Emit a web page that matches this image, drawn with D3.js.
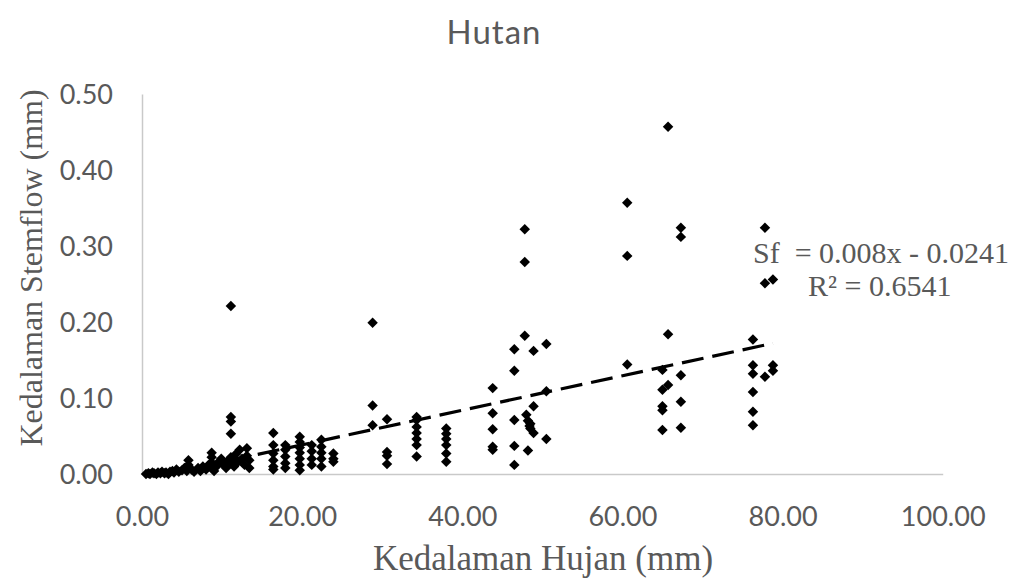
<!DOCTYPE html>
<html>
<head>
<meta charset="utf-8">
<script src="https://cdn.jsdelivr.net/npm/d3@7"></script>
<style>
  html, body { margin: 0; padding: 0; background: #fff; }
  svg { display: block; }
</style>
</head>
<body>
<svg id="chart" width="1010" height="583"></svg>
<script>
// ---- Data ----
const rainfall = [
  0.5, 0.8, 1.0, 1.3, 1.5, 1.8, 2.0, 2.3, 2.5, 2.8, 3.0, 3.3, 3.5, 3.8, 4.0, 4.3, 4.6, 5.0, 5.3, 5.6,
  5.8, 5.8, 6.2, 6.5, 7.0, 7.3, 7.6, 8.0, 8.3, 8.7, 8.7, 8.7, 8.7, 9.0, 9.3, 9.6, 9.9, 10.2, 10.5, 10.8,
  11.1, 11.1, 11.1, 11.1, 11.1, 11.1, 11.5, 11.7, 12.0, 12.2, 12.5, 12.8, 13.1, 13.1, 13.4, 13.4,
  16.4, 16.4, 16.4, 16.4, 16.4, 16.4,
  17.9, 17.9, 17.9, 17.9, 17.9,
  19.7, 19.7, 19.7, 19.7, 19.7, 19.7, 19.7,
  21.2, 21.2, 21.2, 21.2,
  22.4, 22.4, 22.4, 22.4, 22.4,
  23.9, 23.9, 23.9,
  28.8, 28.8, 28.8,
  30.6, 30.6, 30.6, 30.6,
  34.3, 34.3, 34.3, 34.3, 34.3, 34.3, 34.3,
  38.0, 38.0, 38.0, 38.0, 38.0, 38.0,
  43.8, 43.8, 43.8, 43.8, 43.8,
  46.5, 46.5, 46.5, 46.5, 46.5,
  47.8, 47.8, 47.8,
  48.0, 48.2, 48.4, 48.5, 48.5, 48.9, 48.9, 48.9, 48.2,
  50.5, 50.5, 50.5,
  60.6, 60.6, 60.6,
  65.0, 65.0, 65.0, 65.0, 65.0,
  65.7, 65.7, 65.7,
  67.3, 67.3, 67.3, 67.3, 67.3,
  76.3, 76.3, 76.3, 76.3, 76.3, 76.3,
  77.8, 77.8, 77.8,
  78.8, 78.8, 78.8
];
const stemflow = [
  0.000, 0.001, 0.000, 0.002, 0.001, 0.000, 0.002, 0.001, 0.003, 0.001, 0.002, 0.000, 0.003, 0.004, 0.002, 0.006, 0.003, 0.005, 0.008, 0.004,
  0.012, 0.018, 0.006, 0.003, 0.008, 0.004, 0.010, 0.006, 0.012, 0.008, 0.015, 0.022, 0.028, 0.004, 0.010, 0.016, 0.020, 0.012, 0.008, 0.018,
  0.221, 0.075, 0.069, 0.053, 0.022, 0.014, 0.010, 0.026, 0.016, 0.032, 0.020, 0.012, 0.034, 0.024, 0.018, 0.008,
  0.054, 0.038, 0.027, 0.018, 0.010, 0.006,
  0.038, 0.032, 0.023, 0.014, 0.008,
  0.049, 0.042, 0.035, 0.028, 0.020, 0.012, 0.005,
  0.038, 0.030, 0.020, 0.012,
  0.045, 0.036, 0.028, 0.020, 0.010,
  0.027, 0.020, 0.016,
  0.199, 0.090, 0.064,
  0.072, 0.029, 0.024, 0.013,
  0.075, 0.071, 0.062, 0.054, 0.046, 0.038, 0.023,
  0.060, 0.053, 0.046, 0.038, 0.027, 0.016,
  0.113, 0.080, 0.059, 0.036, 0.032,
  0.164, 0.136, 0.071, 0.037, 0.012,
  0.322, 0.279, 0.182,
  0.078, 0.070, 0.063, 0.066, 0.060, 0.054, 0.089, 0.162, 0.031,
  0.171, 0.109, 0.046,
  0.357, 0.287, 0.144,
  0.137, 0.111, 0.089, 0.084, 0.058,
  0.457, 0.184, 0.117,
  0.324, 0.312, 0.130, 0.095, 0.061,
  0.177, 0.143, 0.132, 0.108, 0.082, 0.064,
  0.324, 0.251, 0.128,
  0.256, 0.143, 0.136
];
// Trendline end points as drawn (x in mm rainfall, y in mm stemflow)
const trendX = [3.1, 78.8];
const trendY = [0.000, 0.172];

const xTicks = [0, 20, 40, 60, 80, 100];
const yTicks = [0, 0.1, 0.2, 0.3, 0.4, 0.5];

const titleText = "Hutan";
const xTitle = "Kedalaman Hujan (mm)";
const yTitle = "Kedalaman Stemflow (mm)";
const eqLine1 = "Sf  = 0.008x - 0.0241";
const eqLine2 = "R² = 0.6541";

// ---- Layout ----
const svg = d3.select("#chart");
const plotLeft = 142, plotRight = 942.7, plotTop = 94, plotBottom = 474;
const x = d3.scaleLinear().domain([0, 100]).range([plotLeft, plotRight]);
const y = d3.scaleLinear().domain([0, 0.5]).range([plotBottom, plotTop]);

const textCol = "#595959";
const axisCol = "#c9c9c9";

// Title
svg.append("text")
  .attr("x", 494).attr("y", 44)
  .attr("text-anchor", "middle")
  .style("font-family", "Lato, 'Open Sans', sans-serif")
  .style("font-size", "33px")
  .style("letter-spacing", "1px")
  .style("fill", textCol)
  .text(titleText);

// Axes
const xAxis = d3.axisBottom(x).tickValues(xTicks).tickSize(0).tickPadding(0)
  .tickFormat(d3.format(".2f"));
const yAxis = d3.axisLeft(y).tickValues(yTicks).tickSize(0).tickPadding(0)
  .tickFormat(d3.format(".2f"));

const gx = svg.append("g").attr("transform", `translate(0,${plotBottom})`).call(xAxis);
gx.select(".domain").attr("stroke", axisCol).attr("stroke-width", 1.5);
gx.selectAll("text")
  .attr("dy", null).attr("y", 52)
  .style("font-family", "Lato, 'Open Sans', sans-serif")
  .style("font-size", "27px")
  .style("fill", textCol);

const gy = svg.append("g").attr("transform", `translate(${plotLeft},0)`).call(yAxis);
gy.select(".domain").attr("stroke", axisCol).attr("stroke-width", 1.5);
gy.selectAll("text")
  .attr("x", -29).attr("dy", "0.36em")
  .style("font-family", "Lato, 'Open Sans', sans-serif")
  .style("font-size", "27px")
  .style("fill", textCol);

// Axis titles
svg.append("text")
  .attr("x", 543).attr("y", 570)
  .attr("text-anchor", "middle")
  .style("font-family", "'Liberation Serif', 'Times New Roman', serif")
  .style("font-size", "35px")
  .style("fill", textCol)
  .text(xTitle);

svg.append("text")
  .attr("transform", `translate(42,268) rotate(-90)`)
  .attr("text-anchor", "middle")
  .style("font-family", "'Liberation Serif', 'Times New Roman', serif")
  .style("font-size", "32px")
  .style("fill", textCol)
  .text(yTitle);

// Points
const pts = rainfall.map((r, i) => ({ r, s: stemflow[i] }));
const diamond = d3.symbol().type(d3.symbolDiamond2).size(70);
svg.append("g").selectAll("path")
  .data(pts).enter().append("path")
  .attr("d", diamond)
  .attr("transform", d => `translate(${x(d.r)},${y(d.s)})`)
  .attr("fill", "#000");

// Trendline
const trend = trendX.map((v, i) => [v, trendY[i]]);
svg.append("path")
  .datum(trend)
  .attr("d", d3.line().x(d => x(d[0])).y(d => y(d[1])))
  .attr("fill", "none")
  .attr("stroke", "#000")
  .attr("stroke-width", 3.2)
  .attr("stroke-dasharray", "22,9");

// Equation
svg.append("text")
  .attr("x", 753).attr("y", 263)
  .style("font-family", "'Liberation Serif', 'Times New Roman', serif")
  .style("font-size", "30px")
  .style("fill", textCol)
  .style("white-space", "pre")
  .text(eqLine1);
svg.append("text")
  .attr("x", 808).attr("y", 296)
  .style("font-family", "'Liberation Serif', 'Times New Roman', serif")
  .style("font-size", "30px")
  .style("fill", textCol)
  .text(eqLine2);
</script>
</body>
</html>
